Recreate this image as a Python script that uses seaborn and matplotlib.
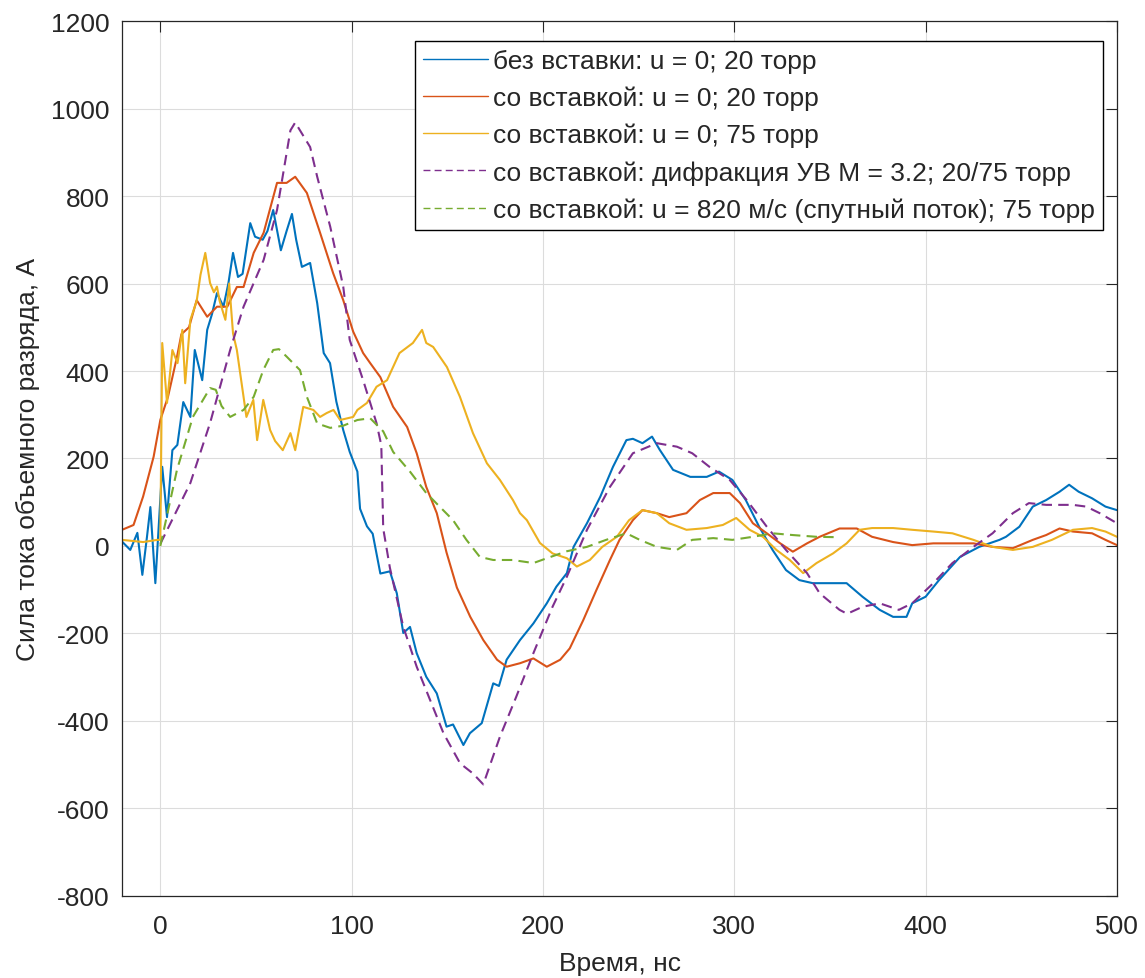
import numpy as np
import pandas as pd
import matplotlib
matplotlib.use("Agg")
import matplotlib.pyplot as plt
import seaborn as sns

# ---- data ----
labels = [
    "без вставки: u = 0; 20 торр",
    "со вставкой: u = 0; 20 торр",
    "со вставкой: u = 0; 75 торр",
    "со вставкой: дифракция УВ М = 3.2; 20/75 торр",
    "со вставкой: u = 820 м/с (спутный поток); 75 торр",
]

blue_x = [-20, -15.7, -12, -9.4, -7, -5.2, -2.6, 1, 3.5, 6.3, 8.9, 12, 15.7, 18, 21.9, 24.5, 27, 29.6, 33, 35.6,
          38, 40.6, 43, 47, 49.5, 53.5, 56, 59, 63, 66, 68.8, 71, 74, 78.3, 82, 85.4, 88.7, 92, 95.6, 99,
          103, 104.4, 108, 111, 115, 120, 123.6, 127, 130.5, 134, 139, 144.5, 149.6, 153, 158.4, 161.8, 168, 174, 177, 181,
          188, 195, 202, 207, 212.5, 216, 223, 230, 236.6, 243.6, 247, 252, 257, 261, 268, 277, 285.6, 292, 299, 306,
          313, 320, 327, 334, 341, 348, 358.7, 367, 376, 383, 390, 393, 400, 407, 418, 428, 438.6, 442, 449, 456,
          463, 470, 475, 480, 487, 494, 500]
blue_y = [10, -9, 30, -66, 20, 89, -85, 181, 66, 219, 231, 329, 295, 448, 379, 494, 530, 578, 547, 601,
          670, 615, 622, 738, 707, 700, 720, 768, 676, 720, 759, 700, 638, 647, 555, 441, 418, 330, 265, 215,
          170, 85, 45, 28, -63, -58, -108, -199, -185, -245, -299, -337, -413, -408, -455, -428, -405, -314, -320, -260,
          -215, -177, -131, -93, -62, -2, 52, 113, 181, 242, 245, 235, 250, 220, 174, 158, 158, 170, 151, 105,
          44, -9, -55, -78, -85, -85, -85, -116, -146, -162, -162, -131, -116, -78, -25, -2, 14, 21, 44, 90,
          105, 124, 140, 124, 109, 90, 82]

red_x = [-20, -14, -9, -3.5, 0, 4, 8.7, 11, 15, 19, 24.5, 29.6, 35, 40, 43.5, 48.8, 54, 61, 66, 70.5,
         76.6, 83.5, 90.3, 95.6, 100.8, 106, 109.7, 115, 121.7, 129, 134, 139, 144.5, 149.6, 155, 162, 168.8, 176, 181, 188,
         195, 202, 209, 214, 221, 228, 235, 240, 247, 252, 259.5, 266, 275, 282, 289, 297.6, 303, 309.7, 317, 324,
         330.6, 338, 344.6, 355, 364, 372, 383, 393, 404, 414, 425, 435, 445.6, 456, 463, 470, 477, 487, 494, 500]
red_y = [37, 48, 113, 204, 288, 341, 432, 484, 500, 562, 524, 547, 547, 592, 592, 670, 716, 830, 830, 844,
         807, 716, 624, 562, 490, 441, 418, 386, 318, 272, 212, 135, 75, -15, -95, -162, -215, -260, -276, -268,
         -257, -276, -260, -234, -170, -100, -32, 14, 59, 82, 75, 66, 75, 105, 121, 121, 98, 52, 29, 6,
         -13, 6, 21, 40, 40, 21, 9, 2, 6, 6, 6, -2, -5, 14, 25, 40, 33, 29, 14, 2]

yel_x = [-20, -9, -1.6, 0, 1, 3.5, 6.3, 9, 11.5, 13, 15.7, 19, 21, 23.5, 26, 28, 29.6, 31, 34, 36,
         38, 40, 43.5, 45, 48.6, 50.6, 53.8, 57.4, 60, 64, 68, 70.5, 74.7, 80, 83.5, 87, 90.5, 94, 100.8, 103,
         108, 113, 118.5, 125, 132, 136.8, 139, 142.6, 149.8, 156.6, 163.4, 170.7, 177.5, 184.3, 188, 191.6, 198.4, 205, 212.5, 217.7,
         224.5, 231, 238.6, 245, 252, 259.5, 266, 275, 285.6, 294, 301, 308, 315, 322, 329, 336, 343, 351.6, 358.7, 365.5,
         372, 383, 393, 404, 414, 425, 435, 445.6, 456, 466, 477, 487, 494, 500]
yel_y = [14, 9, 14, 14, 464, 327, 448, 418, 494, 372, 517, 560, 620, 670, 601, 580, 593, 560, 517, 600,
         486, 448, 341, 295, 334, 242, 334, 265, 240, 219, 258, 219, 318, 311, 295, 304, 311, 288, 295, 311,
         327, 364, 379, 441, 464, 494, 464, 455, 409, 341, 258, 189, 151, 105, 75, 59, 7, -17, -28, -47,
         -32, -2, 21, 59, 82, 75, 52, 37, 41, 48, 64, 37, 21, -9, -32, -62, -39, -17, 6, 37,
         41, 41, 37, 33, 29, 14, -2, -9, -2, 14, 37, 41, 33, 21]

pur_x = [0, 15.7, 26, 36.5, 43.5, 54, 61, 68, 70.5, 78.3, 82, 88.8, 95.6, 99, 106, 113, 115.5, 116.5, 120, 127,
         134, 141, 148, 156.7, 163.4, 168.8, 177.5, 186, 195, 205, 212.5, 223, 235, 247, 259.5, 270, 278, 287, 297.6, 306.5,
         317, 327, 338, 344.6, 355, 359, 367, 376, 386, 393, 404, 414, 425, 435, 445.6, 454, 463, 477, 484, 491, 500]
pur_y = [5, 144, 281, 448, 547, 654, 768, 950, 968, 912, 844, 730, 593, 471, 379, 281, 230, 40, -50, -185,
         -276, -352, -428, -497, -520, -545, -436, -345, -245, -139, -70, 37, 135, 212, 235, 227, 212, 181, 151, 105,
         44, -9, -62, -108, -146, -155, -139, -131, -146, -131, -85, -39, -2, 29, 75, 98, 94, 94, 90, 75, 52]

grn_x = [0, 8.7, 17, 26, 29, 32, 36.5, 43.5, 48.8, 53.8, 59, 62, 66, 73, 76.6, 82, 88.8, 95.6, 103, 109.7,
         116.5, 121.7, 130.5, 139, 146, 153, 160, 167, 174, 184, 195, 202, 212.5, 223, 233, 243.6, 250.6, 259.5, 270, 278,
         289, 299, 309.7, 320, 330.6, 343, 355]
grn_y = [0, 174, 295, 361, 357, 320, 295, 311, 341, 402, 448, 450, 433, 402, 341, 280, 270, 275, 288, 292,
         262, 215, 170, 121, 90, 59, 14, -25, -32, -32, -39, -28, -12, -2, 14, 29, 14, -2, -9, 14,
         18, 14, 21, 29, 25, 21, 20]

x_ticks = [0, 100, 200, 300, 400, 500]
y_ticks = [-800, -600, -400, -200, 0, 200, 400, 600, 800, 1000, 1200]
x_label = "Время, нс"
y_label = "Сила тока объемного разряда, А"

colors = ["#0072BD", "#D95319", "#EDB120", "#7E2F8E", "#77AC30"]

# ---- style ----
sns.set_theme(style="whitegrid")
plt.rcParams["font.family"] = ["Liberation Sans", "DejaVu Sans"]
plt.rcParams["xtick.direction"] = "in"
plt.rcParams["ytick.direction"] = "in"
plt.rcParams["axes.unicode_minus"] = False

fig = plt.figure(figsize=(11.45, 9.79), dpi=100)
ax = fig.add_axes([0.1066, 0.0838, 0.8689, 0.8937])

series = [(blue_x, blue_y, "-"), (red_x, red_y, "-"), (yel_x, yel_y, "-"),
          (pur_x, pur_y, "--"), (grn_x, grn_y, "--")]
for (xs, ys, ls), lab, c in zip(series, labels, colors):
    df = pd.DataFrame({"t": xs, "i": ys})
    sns.lineplot(data=df, x="t", y="i", ax=ax, color=c, label=lab, sort=False,
                 estimator=None, linewidth=1.5, linestyle=ls)
    if ls == "--":
        ax.lines[-1].set_dashes([5, 3])

ax.set_xlim(-20, 500)
ax.set_ylim(-800, 1200)
ax.set_xticks(x_ticks)
ax.set_yticks(y_ticks)
ax.tick_params(axis="both", labelsize=19, colors="#262626", length=8, width=0.8,
               top=True, right=True)
ax.tick_params(axis="x", pad=13)
ax.tick_params(axis="y", pad=9)
ax.set_xlabel(x_label, fontsize=19, color="#262626", labelpad=9)
ax.set_ylabel(y_label, fontsize=19, color="#262626", labelpad=8)
ax.grid(True, color="#dcdcdc", linewidth=0.8)
ax.set_facecolor("white")
for s in ax.spines.values():
    s.set_color("#262626")
    s.set_linewidth(0.9)

leg = ax.legend(loc="upper right", bbox_to_anchor=(0.986, 0.977), fontsize=19,
                frameon=True, fancybox=False, framealpha=1, edgecolor="#000000",
                handlelength=2.45, handletextpad=0.2, borderpad=0.3, labelspacing=0.48,
                borderaxespad=0)
leg.get_frame().set_linewidth(1.0)
for h in leg.get_lines():
    h.set_linewidth(1.0)

fig.savefig("out.png", dpi=100)
